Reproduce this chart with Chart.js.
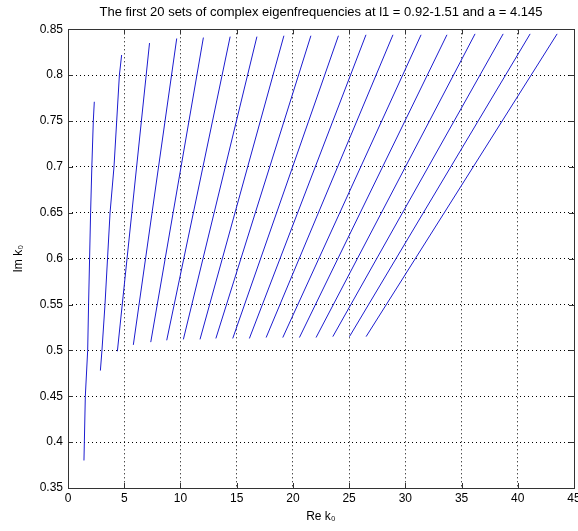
<!DOCTYPE html>
<html>
<head>
<meta charset="utf-8">
<script src="https://cdn.jsdelivr.net/npm/chart.js@4.4.0/dist/chart.umd.min.js"></script>
<style>
  html, body { margin: 0; padding: 0; background: #fff; }
  #wrap { width: 578px; height: 531px; }
</style>
</head>
<body>
<div id="wrap"><canvas id="eigChart"></canvas></div>
<script>
// real and imaginary parts of k0 for each set, traced along the l1 sweep
var reK = [
  [1.42, 1.54, 1.75, 1.83, 2.01, 2.12, 2.25, 2.34],
  [2.88, 3.02, 3.29, 3.74, 4.09, 4.33, 4.57, 4.77],
  [4.39, 7.25],
  [5.81, 9.67],
  [7.36, 12.04],
  [8.78, 14.42],
  [10.26, 16.80],
  [11.74, 19.20],
  [13.15, 21.60],
  [14.65, 24.05],
  [16.13, 26.50],
  [17.62, 28.90],
  [19.10, 31.40],
  [20.58, 33.70],
  [22.06, 36.20],
  [23.55, 38.70],
  [25.03, 41.10],
  [26.51, 43.50]
];
var imK = [
  [0.380, 0.450, 0.500, 0.550, 0.650, 0.700, 0.750, 0.771],
  [0.478, 0.500, 0.550, 0.650, 0.700, 0.750, 0.800, 0.822],
  [0.499, 0.835],
  [0.506, 0.840],
  [0.509, 0.841],
  [0.511, 0.842],
  [0.512, 0.842],
  [0.512, 0.843],
  [0.513, 0.843],
  [0.513, 0.843],
  [0.513, 0.844],
  [0.514, 0.844],
  [0.514, 0.844],
  [0.514, 0.844],
  [0.514, 0.845],
  [0.515, 0.845],
  [0.515, 0.845],
  [0.515, 0.845]
];
var xTicks = [0, 5, 10, 15, 20, 25, 30, 35, 40, 45];
var yTicks = [0.35, 0.4, 0.45, 0.5, 0.55, 0.6, 0.65, 0.7, 0.75, 0.8, 0.85];

var datasets = [];
for (var i = 0; i < reK.length; i++) {
  var pts = [];
  for (var j = 0; j < reK[i].length; j++) {
    pts.push({ x: reK[i][j], y: imK[i][j] });
  }
  datasets.push({
    label: 'set ' + (i + 1),
    data: pts,
    borderColor: '#1c1cd0',
    borderWidth: 1,
    pointRadius: 0,
    tension: 0,
    fill: false
  });
}

// solid box round the axes plus MATLAB-style inward tick marks on all sides
var boxTicks = {
  id: 'boxTicks',
  afterDraw: function (chart) {
    var ctx = chart.ctx;
    var a = chart.chartArea;
    var xs = chart.scales.x;
    var ys = chart.scales.y;
    var len = 5;
    ctx.save();
    ctx.strokeStyle = '#333';
    ctx.lineWidth = 1;
    ctx.strokeRect(Math.round(a.left) + 0.5, Math.round(a.top) + 0.5,
      Math.round(a.right - a.left), Math.round(a.bottom - a.top));
    ctx.beginPath();
    for (var i = 0; i < xTicks.length; i++) {
      var px = Math.round(xs.getPixelForValue(xTicks[i])) + 0.5;
      ctx.moveTo(px, a.bottom);
      ctx.lineTo(px, a.bottom - len);
      ctx.moveTo(px, a.top);
      ctx.lineTo(px, a.top + len);
    }
    for (var k = 0; k < yTicks.length; k++) {
      var py = Math.round(ys.getPixelForValue(yTicks[k])) + 0.5;
      ctx.moveTo(a.left, py);
      ctx.lineTo(a.left + len, py);
      ctx.moveTo(a.right, py);
      ctx.lineTo(a.right - len, py);
    }
    ctx.stroke();
    ctx.restore();
  }
};

var font = 'Liberation Sans, Arial, sans-serif';

var config = {
  type: 'line',
  data: { datasets: datasets },
  options: {
    responsive: true,
    maintainAspectRatio: false,
    animation: false,
    layout: { padding: { left: 0, right: 4, top: 0, bottom: 0 } },
    plugins: {
      legend: { display: false },
      tooltip: { enabled: false },
      title: {
        display: true,
        fullSize: false,
        text: 'The first 20 sets of complex eigenfrequencies at l1 = 0.92-1.51 and a = 4.145',
        color: '#000',
        font: { family: font, size: 13, weight: 'normal', lineHeight: 1.1 },
        padding: { top: 5, bottom: 10 }
      }
    },
    scales: {
      x: {
        type: 'linear',
        min: 0,
        max: 45,
        afterBuildTicks: function (scale) {
          scale.ticks = xTicks.map(function (v) { return { value: v }; });
        },
        afterFit: function (scale) {
          scale.height = 43;
          scale.paddingLeft = 0;
          scale.paddingRight = 0;
        },
        grid: {
          color: '#000',
          lineWidth: 1,
          drawTicks: false
        },
        border: { display: false, dash: [1, 3] },
        ticks: {
          color: '#000',
          padding: 3,
          maxRotation: 0,
          font: { family: font, size: 12 }
        },
        title: {
          display: true,
          text: 'Re k\u2080',
          color: '#000',
          font: { family: font, size: 12 },
          padding: { top: 0, bottom: 7 }
        }
      },
      y: {
        type: 'linear',
        min: 0.35,
        max: 0.85,
        afterBuildTicks: function (scale) {
          scale.ticks = yTicks.map(function (v) { return { value: v }; });
        },
        afterFit: function (scale) {
          scale.width = 68;
        },
        grid: {
          color: '#000',
          lineWidth: 1,
          drawTicks: false
        },
        border: { display: false, dash: [1, 3] },
        ticks: {
          color: '#000',
          padding: 5,
          font: { family: font, size: 12 },
          callback: function (v) { return String(+v.toFixed(2)); }
        },
        title: {
          display: true,
          text: 'Im k\u2080',
          color: '#000',
          font: { family: font, size: 12 },
          padding: { top: 11, bottom: 0 }
        }
      }
    }
  },
  plugins: [boxTicks]
};

var eigChart = new Chart(document.getElementById('eigChart'), config);
</script>
</body>
</html>
